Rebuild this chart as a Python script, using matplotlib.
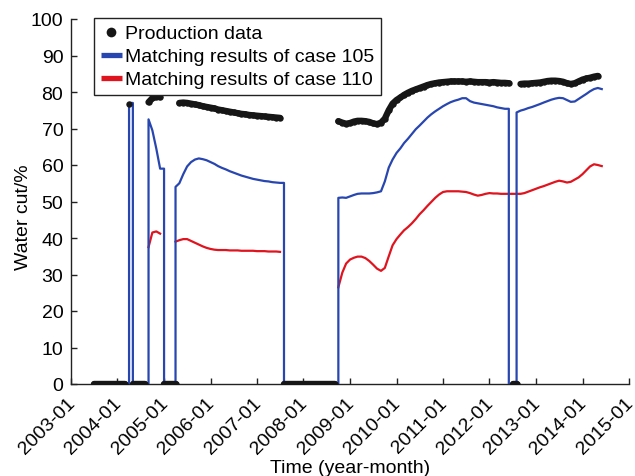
import numpy as np
import pandas as pd
import matplotlib
matplotlib.use("Agg")
import matplotlib.pyplot as plt
import matplotlib.dates as mdates
from matplotlib.lines import Line2D
from matplotlib.transforms import ScaledTranslation

# Monthly time axis, 2003-07 .. 2014-06
months = pd.date_range("2003-07-01", periods=132, freq="MS")

# Measured water cut (%), 0 = well shut in, None = no record
production = [
    0, 0, 0, 0, 0, 0, 0, 0, 0,
    76.8,
    0, 0, 0, 0,
    77.2, 78.3, 78.7, 78.6,
    0, 0, 0, 0,
    77.0, 77.1, 77.0, 76.8, 76.6, 76.4, 76.1, 75.9, 75.7, 75.5, 75.2, 75.0,
    74.8, 74.6, 74.4, 74.2, 74.0, 73.9, 73.7, 73.6, 73.5, 73.4, 73.3, 73.2,
    73.1, 73.0, 72.9,
    0, 0, 0, 0, 0, 0, 0, 0, 0, 0, 0, 0, 0, 0,
    72.0, 71.6, 71.3, 71.5, 71.9, 72.1, 72.1, 72.0, 71.8, 71.4, 71.2, 71.6,
    72.7, 75.0, 76.8, 77.8, 78.5, 79.2, 79.8, 80.3, 80.7, 81.1, 81.5, 81.9,
    82.2, 82.4, 82.6, 82.7, 82.8, 82.9, 82.9, 82.9, 82.9, 82.8, 82.9, 82.8,
    82.7, 82.7, 82.7, 82.6, 82.7, 82.6, 82.5, 82.5, 82.4,
    0, 0,
    82.2, 82.3, 82.3, 82.4, 82.5, 82.6, 82.8, 83.0, 83.1, 83.1, 83.0, 82.8,
    82.4, 82.2, 82.4, 82.9, 83.4, 83.7, 83.9, 84.2, 84.4,
    None,
]

# Simulated water cut, case 105 (%)
case_105 = [
    0, 0, 0, 0, 0, 0, 0, 0, 0,
    77.0,
    0, 0, 0, 0,
    72.5, 69.5, 64.5, 59.0,
    0, 0, 0,
    54.0, 55.0, 57.5, 59.6, 60.8, 61.5, 61.8, 61.6, 61.3, 60.8, 60.3, 59.7,
    59.2, 58.8, 58.3, 57.9, 57.5, 57.1, 56.8, 56.5, 56.2, 56.0, 55.8, 55.6,
    55.5, 55.3, 55.2, 55.1,
    0, 0, 0, 0, 0, 0, 0, 0, 0, 0, 0, 0, 0, 0,
    51.0, 51.1, 51.0, 51.4, 51.8, 52.1, 52.2, 52.2, 52.2, 52.3, 52.5, 52.8,
    55.5, 59.3, 61.5, 63.3, 64.6, 66.0, 67.2, 68.5, 69.8, 70.8, 71.9, 73.0,
    73.9, 74.7, 75.4, 76.1, 76.7, 77.2, 77.6, 77.9, 78.3, 78.3, 77.5, 77.1,
    76.9, 76.7, 76.5, 76.3, 76.1, 75.8, 75.6, 75.4,
    0, 0,
    74.4, 74.9, 75.2, 75.6, 75.9, 76.3, 76.7, 77.1, 77.5, 77.9, 78.2, 78.4,
    78.3, 77.8, 77.3, 77.4, 78.1, 78.8, 79.5, 80.2, 80.8, 81.1, 80.8,
]

# Simulated water cut, case 110 (%)
case_110 = [
    None, None, None, None, None, None, None, None, None, None, None, None,
    None, None,
    37.5, 41.5, 41.8, 41.2,
    None, None, None,
    39.0, 39.4, 39.7, 39.7, 39.2, 38.7, 38.2, 37.7, 37.3, 37.0, 36.8, 36.7,
    36.7, 36.7, 36.6, 36.6, 36.6, 36.5, 36.5, 36.5, 36.5, 36.4, 36.4, 36.4,
    36.3, 36.3, 36.3, 36.2,
    None, None, None, None, None, None, None, None, None, None, None, None,
    None, None,
    26.5, 30.5, 33.0, 34.1, 34.6, 34.9, 34.9, 34.5, 33.7, 32.7, 31.6, 31.0,
    31.8, 35.0, 38.0, 39.7, 41.0, 42.1, 43.0, 44.0, 45.2, 46.5, 47.6, 48.8,
    49.9, 51.0, 51.9, 52.6, 52.8, 52.8, 52.8, 52.8, 52.7, 52.6, 52.3, 51.9,
    51.6, 51.8, 52.1, 52.3, 52.2, 52.2, 52.1, 52.1, 52.1, 52.1, 52.1, 52.1,
    52.3, 52.7, 53.1, 53.5, 53.9, 54.2, 54.6, 55.0, 55.4, 55.7, 55.5, 55.2,
    55.4, 56.0, 56.6, 57.5, 58.6, 59.6, 60.2, 60.0, 59.7,
]

labels = ["Production data", "Matching results of case 105",
          "Matching results of case 110"]
year_ticks = pd.date_range("2003-01-01", "2015-01-01", freq="YS")
y_ticks = list(range(0, 101, 10))

BLACK = "#161616"
BLUE = "#2846b0"
RED = "#e0141e"

plt.rcParams["font.family"] = ["Liberation Sans", "DejaVu Sans"]
plt.rcParams["font.size"] = 14


def switched_path(times, values):
    """Linear path inside each run of non-zero values, with sheer jumps
    when the well is switched on or off (the last value is held until
    the month the well is shut)."""
    xs, ys = [], []
    prev = 0.0
    for t, v in zip(times, values):
        on_prev, on_now = prev != 0, v != 0
        if on_now and not on_prev:
            xs += [t, t]
            ys += [0.0, v]
        elif on_prev and not on_now:
            xs += [t, t]
            ys += [prev, 0.0]
        else:
            xs.append(t)
            ys.append(v)
        prev = v
    return xs, ys


fig = plt.figure(figsize=(6.35, 4.77), dpi=100)
ax = fig.add_axes([71 / 635, 92 / 477, 558 / 635, 365 / 477])

prod = np.array(production, dtype=float)
c105 = np.array(case_105, dtype=float)
c110 = np.array(case_110, dtype=float)

bx, by = switched_path(months, c105)

ax.plot(months, c110, color=RED, lw=1.6, zorder=2)
ax.plot(bx, by, color=BLUE, lw=1.6, zorder=3)

# Dense measurement record: markers joined into a continuous band,
# kept apart between producing and shut-in months
prod_on = np.where(prod > 0, prod, np.nan)
prod_off = np.where(prod == 0, prod, np.nan)
for part in (prod_on, prod_off):
    ax.plot(months, part, "-o", lw=4.6, ms=4.6, mew=0, color=BLACK,
            solid_capstyle="round", solid_joinstyle="round", zorder=4)

ax.set_xlim(pd.Timestamp("2003-01-01"), pd.Timestamp("2015-01-01"))
ax.set_ylim(0, 100)
ax.set_xticks(year_ticks)
ax.xaxis.set_major_formatter(mdates.DateFormatter("%Y-%m"))
ax.set_yticks(y_ticks)

for side in ("top", "right"):
    ax.spines[side].set_visible(False)
for side in ("left", "bottom"):
    ax.spines[side].set_linewidth(1.0)
    ax.spines[side].set_color("#222222")

ax.tick_params(axis="both", direction="in", length=4, width=1.0,
               color="#222222", labelsize=14)
ax.tick_params(axis="y", pad=5.5)
ax.tick_params(axis="x", pad=7)

shift = ScaledTranslation(-0.045, 0, fig.dpi_scale_trans)
for lab in ax.get_xticklabels():
    lab.set_rotation(45)
    lab.set_ha("right")
    lab.set_va("top")
    lab.set_rotation_mode("anchor")
    lab.set_transform(lab.get_transform() + shift)

ax.set_xlabel("Time (year-month)", fontsize=14, labelpad=2)
ax.set_ylabel("Water cut/%", fontsize=14)
ax.yaxis.set_label_coords(-0.07, 0.46)

handles = [
    Line2D([], [], ls="none", marker="o", ms=7, mew=0, color=BLACK),
    Line2D([], [], color=BLUE, lw=3.8, solid_capstyle="butt"),
    Line2D([], [], color=RED, lw=3.8, solid_capstyle="butt"),
]
leg = ax.legend(handles, labels, loc="upper left",
                bbox_to_anchor=(0.042, 1.003), borderaxespad=0,
                fontsize=14, handlelength=1.05, handletextpad=0.15,
                borderpad=0.35, labelspacing=0.28, fancybox=False,
                framealpha=1, edgecolor="#222222")
leg.get_frame().set_linewidth(1.0)

fig.savefig("out.png", dpi=100)
